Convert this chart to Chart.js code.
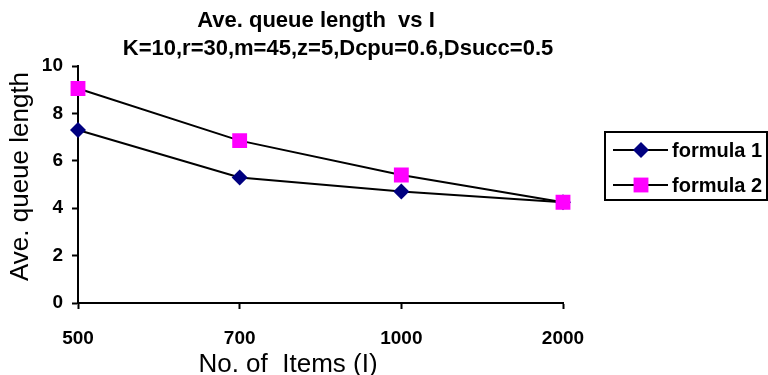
<!DOCTYPE html>
<html>
<head>
<meta charset="utf-8">
<title>Ave. queue length vs I</title>
<script src="https://cdn.jsdelivr.net/npm/chart.js@4"></script>
<style>
  html, body { margin: 0; padding: 0; background: #fff; }
  canvas { display: block; }
</style>
</head>
<body>
<canvas id="queueChart" width="768" height="375"></canvas>
<script>
// number of items on the x axis
const items = ['500', '700', '1000', '2000'];
// average queue length per formula
const formula1 = [7.3, 5.3, 4.7, 4.25];
const formula2 = [9.05, 6.85, 5.4, 4.25];
const yTicks = [0, 2, 4, 6, 8, 10];

const titleLines = ['Ave. queue length  vs I', 'K=10,r=30,m=45,z=5,Dcpu=0.6,Dsucc=0.5'];
const xTitle = 'No. of  Items (I)';
const yTitle = 'Ave. queue length';

const FONT = '"Liberation Sans", Arial, sans-serif';

// titles, axis titles and the boxed legend are painted by hand
const extras = {
  id: 'extras',
  afterDraw(chart) {
    const { ctx, chartArea } = chart;
    ctx.save();
    ctx.fillStyle = '#000';
    ctx.textBaseline = 'alphabetic';
    ctx.textAlign = 'center';

    ctx.font = 'bold 22px ' + FONT;
    ctx.fillText(titleLines[0], 316, 27);
    ctx.fillText(titleLines[1], 338, 55);

    ctx.font = '26px ' + FONT;
    ctx.fillText(xTitle, 288, 372);

    ctx.save();
    ctx.translate(28, (chartArea.top + chartArea.bottom) / 2 - 8);
    ctx.rotate(-Math.PI / 2);
    ctx.fillText(yTitle, 0, 0);
    ctx.restore();

    // legend
    const box = { x: 605, y: 132, w: 162, h: 68 };
    ctx.lineWidth = 2;
    ctx.strokeStyle = '#000';
    ctx.strokeRect(box.x, box.y, box.w, box.h);
    ctx.font = 'bold 20px ' + FONT;
    ctx.textAlign = 'left';
    ctx.textBaseline = 'middle';
    chart.data.datasets.forEach((ds, i) => {
      const y = box.y + 18 + i * 35;
      ctx.beginPath();
      ctx.lineWidth = 2;
      ctx.moveTo(box.x + 8, y);
      ctx.lineTo(box.x + 63, y);
      ctx.stroke();
      ctx.fillStyle = ds.pointBackgroundColor;
      Chart.helpers.drawPoint(ctx, { pointStyle: ds.pointStyle, radius: ds.pointRadius, rotation: 0, borderWidth: 0 }, box.x + 36, y);
      ctx.fillStyle = '#000';
      ctx.fillText(ds.label, box.x + 67, y + 1);
    });
    ctx.restore();
  }
};

new Chart(document.getElementById('queueChart'), {
  type: 'line',
  data: {
    labels: items,
    datasets: [{
      label: 'formula 1',
      data: formula1,
      borderColor: '#000',
      borderWidth: 2,
      pointStyle: 'rectRot',
      pointRadius: 8,
      pointBackgroundColor: '#000080',
      pointBorderWidth: 0,
      order: 1
    },
    {
      label: 'formula 2',
      data: formula2,
      borderColor: '#000',
      borderWidth: 2,
      pointStyle: 'rect',
      pointRadius: 10.5,
      pointBackgroundColor: '#ff00ff',
      pointBorderWidth: 0,
      order: 0
    }]
  },
  options: {
    responsive: false,
    animation: false,
    layout: { padding: { top: 66, right: 205, left: 0, bottom: 0 } },
    plugins: {
      legend: { display: false },
      title: { display: false },
      tooltip: { enabled: false }
    },
    scales: {
      x: {
        offset: false,
        border: { color: '#000', width: 2 },
        grid: { drawOnChartArea: false, tickLength: 6, tickColor: '#000', tickWidth: 2 },
        ticks: { color: '#000', font: { family: FONT, size: 19, weight: 'bold' }, padding: 18, maxRotation: 0 },
        afterFit(scale) { scale.height = 72; }
      },
      y: {
        min: 0,
        max: 10,
        border: { color: '#000', width: 2 },
        grid: { drawOnChartArea: false, tickLength: 6, tickColor: '#000', tickWidth: 2 },
        afterBuildTicks(scale) { scale.ticks = yTicks.map(v => ({ value: v })); },
        ticks: { color: '#000', font: { family: FONT, size: 19, weight: 'bold' }, padding: 9 },
        afterFit(scale) { scale.width = 78; }
      }
    }
  },
  plugins: [extras]
});
</script>
</body>
</html>
